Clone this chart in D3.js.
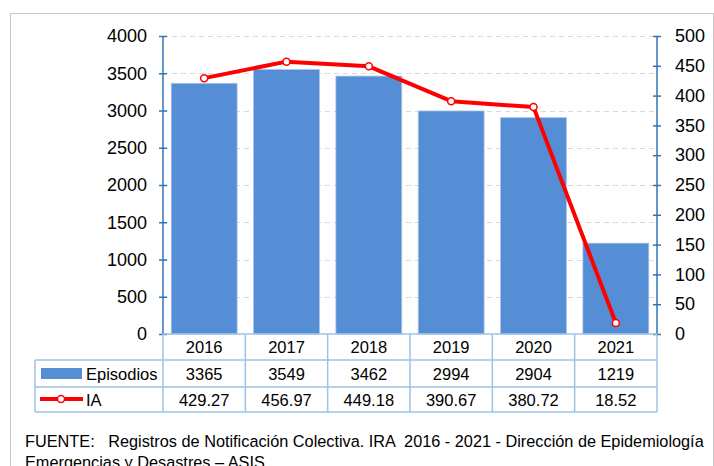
<!DOCTYPE html>
<html>
<head>
<meta charset="utf-8">
<script src="https://cdn.jsdelivr.net/npm/d3@7"></script>
<style>
  body { margin: 0; background: #fff; }
  svg { display: block; font-family: "Liberation Sans", Arial, sans-serif; }
</style>
</head>
<body>
<svg width="714" height="466"></svg>
<script>
var years = ['2016', '2017', '2018', '2019', '2020', '2021'];
var episodios = [3365, 3549, 3462, 2994, 2904, 1219];
var ia = [429.27, 456.97, 449.18, 390.67, 380.72, 18.52];
var leftTicks = [0, 500, 1000, 1500, 2000, 2500, 3000, 3500, 4000];
var rightTicks = [0, 50, 100, 150, 200, 250, 300, 350, 400, 450, 500];

var svg = d3.select('svg');
var axisColor = '#2e75b6';
var tableColor = '#9dc3e6';
var barColor = '#558ed5';

// plot box (window.top is reserved, so no "top" here)
var plotLeft = 163, plotRight = 657, plotTop = 36, plotBottom = 334;
var rowH = [26, 27, 25]; // header, episodios, IA

// outer frame
svg.append('rect')
  .attr('x', 10.5).attr('y', 13.5)
  .attr('width', 703).attr('height', 460)
  .attr('fill', 'none').attr('stroke', '#c8c8c8');

var x = d3.scaleBand().domain(years).range([plotLeft, plotRight]).paddingInner(0.2).paddingOuter(0.1);
var xc = d3.scaleBand().domain(years).range([plotLeft, plotRight]);
var yL = d3.scaleLinear().domain([0, 4000]).range([plotBottom, plotTop]);
var yR = d3.scaleLinear().domain([0, 500]).range([plotBottom, plotTop]);

// gridlines
svg.append('g').selectAll('line')
  .data(leftTicks.slice(1))
  .enter().append('line')
  .attr('x1', plotLeft).attr('x2', plotRight)
  .attr('y1', function(d){ return Math.round(yL(d)) + 0.5; })
  .attr('y2', function(d){ return Math.round(yL(d)) + 0.5; })
  .attr('stroke', '#d9d9d9').attr('stroke-dasharray', '5,4');

// bars
svg.append('g').selectAll('rect')
  .data(episodios)
  .enter().append('rect')
  .attr('x', function(d, i){ return x(years[i]); })
  .attr('width', x.bandwidth())
  .attr('y', function(d){ return yL(d); })
  .attr('height', function(d){ return plotBottom - yL(d); })
  .attr('fill', barColor)
  .attr('stroke', '#a9c4eb').attr('stroke-width', 0.8);

// axes
function styleAxis(g){
  g.select('.domain').remove();
  g.selectAll('.tick line').attr('stroke', axisColor).attr('stroke-width', 1.5)
    .attr('x1', -4).attr('x2', 4);
  g.selectAll('.tick text').attr('fill', '#000').style('font-size', '18px');
  g.append('line').attr('y1', plotTop).attr('y2', plotBottom)
    .attr('stroke', axisColor).attr('stroke-width', 1.5);
}
svg.append('g')
  .attr('transform', 'translate(' + plotLeft + ',0)')
  .call(d3.axisLeft(yL).tickValues(leftTicks).tickFormat(d3.format('d')).tickSize(0).tickPadding(16))
  .call(styleAxis);
svg.append('g')
  .attr('transform', 'translate(' + plotRight + ',0)')
  .call(d3.axisRight(yR).tickValues(rightTicks).tickFormat(d3.format('d')).tickSize(0).tickPadding(18))
  .call(styleAxis);

// IA line
var line = d3.line()
  .x(function(d, i){ return xc(years[i]) + xc.bandwidth() / 2; })
  .y(function(d){ return yR(d); });
svg.append('path')
  .datum(ia)
  .attr('d', line)
  .attr('fill', 'none').attr('stroke', '#ff0000').attr('stroke-width', 4)
  .attr('stroke-linejoin', 'round');
svg.append('g').selectAll('circle')
  .data(ia)
  .enter().append('circle')
  .attr('cx', function(d, i){ return xc(years[i]) + xc.bandwidth() / 2; })
  .attr('cy', function(d){ return yR(d); })
  .attr('r', 3.5)
  .attr('fill', '#fff').attr('stroke', '#ff0000').attr('stroke-width', 1.5);

// data table
var tableLeft = 35;
var y0 = plotBottom, y1 = y0 + rowH[0], y2 = y1 + rowH[1], y3 = y2 + rowH[2];
var tbl = svg.append('g').attr('stroke', tableColor).attr('stroke-width', 1.5).attr('fill', 'none');
tbl.append('line').attr('x1', plotLeft).attr('x2', plotRight).attr('y1', y0).attr('y2', y0);
[y1, y2, y3].forEach(function(yy){
  tbl.append('line').attr('x1', tableLeft).attr('x2', plotRight).attr('y1', yy).attr('y2', yy);
});
tbl.append('line').attr('x1', tableLeft).attr('x2', tableLeft).attr('y1', y1).attr('y2', y3);
tbl.selectAll('.v')
  .data(years.concat(['end']))
  .enter().append('line')
  .attr('x1', function(d, i){ return plotLeft + i * xc.bandwidth(); })
  .attr('x2', function(d, i){ return plotLeft + i * xc.bandwidth(); })
  .attr('y1', y0).attr('y2', y3);

var cellText = svg.append('g').attr('font-size', 16.5).attr('text-anchor', 'middle').attr('fill', '#000');
function rowText(vals, yy, fmt){
  cellText.selectAll(null)
    .data(vals)
    .enter().append('text')
    .attr('x', function(d, i){ return xc(years[i]) + xc.bandwidth() / 2; })
    .attr('y', yy)
    .text(fmt);
}
rowText(years, y0 + 19, function(d){ return d; });
rowText(episodios, y1 + 20, function(d){ return d; });
rowText(ia, y2 + 19, function(d){ return d.toFixed(2); });

// legend keys
svg.append('rect').attr('x', 41).attr('y', 368).attr('width', 41).attr('height', 11).attr('fill', barColor);
svg.append('text').attr('x', 86).attr('y', y1 + 20).attr('font-size', 16.5).text('Episodios');
svg.append('line').attr('x1', 40).attr('x2', 83).attr('y1', 399).attr('y2', 399)
  .attr('stroke', '#ff0000').attr('stroke-width', 4);
svg.append('circle').attr('cx', 61).attr('cy', 399).attr('r', 3.5)
  .attr('fill', '#fff').attr('stroke', '#ff0000').attr('stroke-width', 1.5);
svg.append('text').attr('x', 86).attr('y', y2 + 19).attr('font-size', 16.5).text('IA');

// footer
svg.append('text').attr('x', 25).attr('y', 447).attr('font-size', 16.3)
  .attr('xml:space', 'preserve')
  .text('FUENTE:   Registros de Notificación Colectiva. IRA  2016 - 2021 - Dirección de Epidemiología');
svg.append('text').attr('x', 25).attr('y', 468).attr('font-size', 16.3)
  .text('Emergencias y Desastres – ASIS.');
</script>
</body>
</html>
